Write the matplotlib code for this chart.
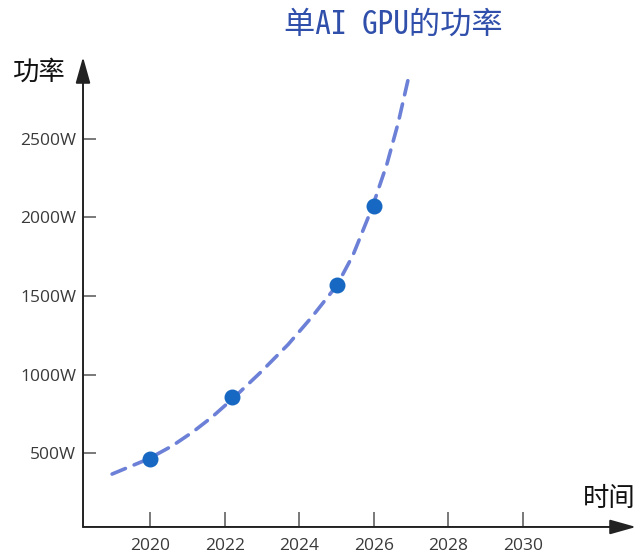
import numpy as np
import matplotlib
matplotlib.use('Agg')
import matplotlib.pyplot as plt

plt.rcParams['font.family'] = ['Noto Sans CJK SC', 'DejaVu Sans']

# GPU power samples (year, watts)
years = [2020.0, 2022.2, 2025.0, 2026.0]
power = [460, 855, 1570, 2075]

# Trend curve traced through the samples
trend_years = [2018.98, 2019.95, 2020.59, 2021.15, 2021.66, 2022.23, 2022.95,
               2023.70, 2024.34, 2025.01, 2025.44, 2025.95, 2026.35, 2026.65, 2026.94]
trend_power = [366, 462, 545, 635, 729, 849, 1011,
               1191, 1367, 1568, 1760, 2060, 2340, 2600, 2901]

xticks = [2020, 2022, 2024, 2026, 2028, 2030]
yticks = [500, 1000, 1500, 2000, 2500]
ytick_labels = [f'{v}W' for v in yticks]

fig = plt.figure(figsize=(6.41, 5.55), dpi=100)
ax = fig.add_axes([0.1295, 0.0505, 0.8627, 0.8468])

ax.plot(trend_years, trend_power, linestyle=(0, (4, 2.6)), color='#6b80d6', lw=2.6,
        dash_capstyle='round', zorder=2)
ax.scatter(years, power, s=110, color='#1768c2', zorder=3)

ax.set_xlim(2018.2, 2033.03)
ax.set_ylim(29, 3022)

for s in ax.spines.values():
    s.set_visible(False)

# axis arrows
arrow = dict(arrowstyle='-|>,head_length=1.6,head_width=0.45', color='#222222', lw=1.4,
             shrinkA=0, shrinkB=0)
ax.annotate('', xy=(0, 1), xytext=(0, 0), xycoords='axes fraction', arrowprops=arrow)
ax.annotate('', xy=(1, 0), xytext=(0, 0), xycoords='axes fraction', arrowprops=arrow)

ax.set_xticks(xticks)
ax.set_xticklabels([str(x) for x in xticks])
ax.set_yticks(yticks)
ax.set_yticklabels(ytick_labels)
ax.tick_params(axis='x', direction='in', length=11, width=1.1, color='#555555',
               pad=8, labelsize=12.5, labelcolor='#3a3a3a')
ax.tick_params(axis='y', direction='in', length=9, width=1.1, color='#555555',
               pad=5, labelsize=12.5, labelcolor='#3a3a3a')
for lab in ax.get_xticklabels() + ax.get_yticklabels():
    lab.set_family(['Open Sans', 'DejaVu Sans'])

fig.text(0.613, 0.955, '单AI GPU的功率', ha='center', va='center', fontsize=22.5,
         color='#2f4fab', family=['Noto Sans Mono CJK SC', 'Noto Sans CJK SC', 'DejaVu Sans'])
fig.text(0.061, 0.870, '功率', ha='center', va='center', fontsize=19, color='#111111')
fig.text(0.950, 0.101, '时间', ha='center', va='center', fontsize=19, color='#111111')

fig.savefig('out.png', dpi=100)
